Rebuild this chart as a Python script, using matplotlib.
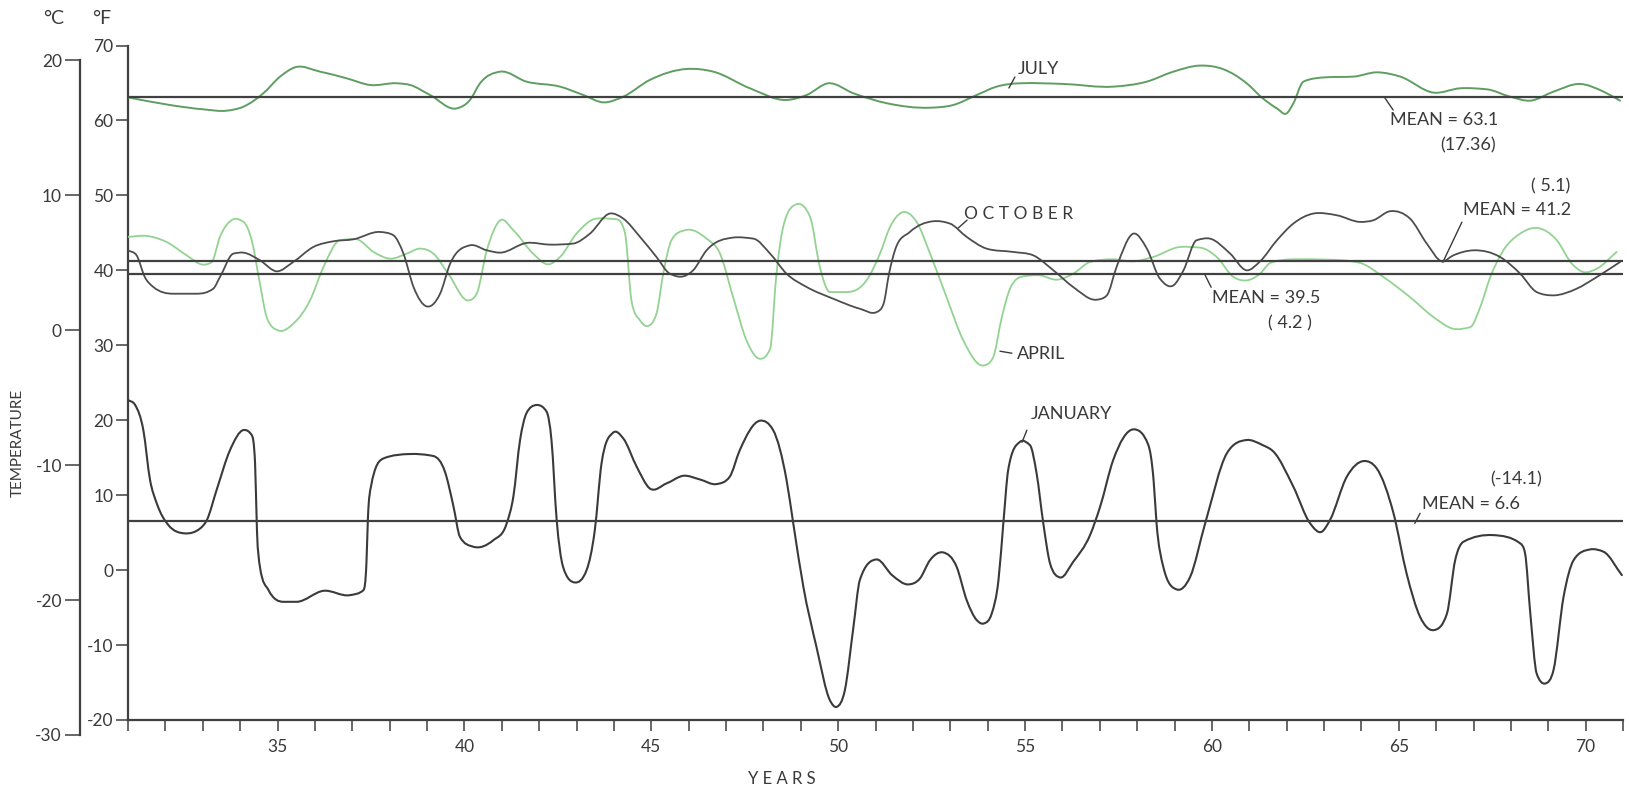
import numpy as np
import matplotlib
matplotlib.use("Agg")
import matplotlib.pyplot as plt
from matplotlib.path import Path
from matplotlib.patches import PathPatch

plt.rcParams['font.family'] = ['Lato', 'DejaVu Sans']
plt.rcParams['axes.unicode_minus'] = False

# ---------------- data (year, deg F) ----------------
jul_x = [31.0, 32.12, 33.02, 33.64, 34.09, 34.62, 35.07, 35.47, 36.14, 36.85, 37.48, 38.19,
         38.55, 39.08, 39.80, 40.15, 40.42, 40.96, 41.66, 42.56, 43.18, 43.72, 44.25, 44.96,
         45.95, 46.66, 47.64, 48.62, 49.16, 49.74, 50.41, 51.30, 52.46, 53.08, 53.71, 54.24,
         54.87, 56.03, 57.36, 58.26, 58.97, 59.68, 60.31, 60.93, 61.35, 61.74, 62.00, 62.18,
         62.45, 63.07, 63.79, 64.41, 65.04, 65.93, 66.64, 67.36, 67.98, 68.52, 69.14, 69.85,
         70.48, 70.92]
jul_f = [63.08, 62.06, 61.48, 61.30, 61.84, 63.62, 65.85, 67.09, 66.51, 65.62, 64.73, 64.96,
         64.73, 63.40, 61.61, 62.73, 64.96, 66.51, 65.18, 64.51, 63.40, 62.41, 63.17, 65.40,
         66.87, 66.51, 64.29, 62.73, 63.40, 64.96, 63.62, 62.30, 61.70, 62.06, 63.40, 64.51,
         64.96, 64.87, 64.51, 65.18, 66.51, 67.32, 66.83, 64.96, 63.00, 61.61, 60.94, 62.28,
         65.18, 65.76, 65.85, 66.42, 65.85, 63.71, 64.29, 64.15, 63.17, 62.64, 63.84, 64.87,
         63.84, 62.64]

oct_x = [31.0, 31.23, 31.45, 31.68, 32.21, 32.84, 33.28, 33.46, 33.82, 34.09, 34.53, 34.98,
         35.42, 35.96, 36.50, 37.03, 37.74, 38.10, 38.37, 38.64, 38.99, 39.35, 39.62, 40.15,
         40.60, 40.96, 41.66, 42.29, 42.91, 43.36, 43.89, 44.25, 44.70, 45.14, 45.50, 45.86,
         46.12, 46.48, 47.19, 47.73, 48.18, 48.62, 49.16, 49.87, 50.58, 51.03, 51.22, 51.36,
         51.52, 51.92, 52.55, 52.99, 53.44, 53.97, 54.69, 55.22, 55.76, 56.29, 56.92, 57.19,
         57.45, 57.90, 58.26, 58.61, 58.97, 59.24, 59.59, 59.95, 60.49, 60.93, 61.29, 61.74,
         62.18, 62.72, 63.34, 63.97, 64.32, 64.77, 65.30, 65.75, 66.15, 66.46, 67.00, 67.71,
         68.25, 68.69, 69.14, 69.76, 70.30, 70.92]
oct_f = [42.67, 42.00, 39.10, 37.77, 36.88, 36.88, 37.55, 39.10, 42.23, 42.36, 41.34, 39.87,
         41.11, 43.12, 43.88, 44.14, 45.12, 44.68, 42.23, 37.77, 35.19, 36.88, 40.89, 43.34,
         42.67, 42.36, 43.65, 43.43, 43.57, 44.90, 47.58, 46.91, 44.46, 41.78, 39.55, 39.20,
         40.00, 42.67, 44.37, 44.23, 42.23, 39.55, 37.77, 36.21, 34.88, 34.43, 35.60, 39.50,
         42.67, 45.12, 46.55, 46.24, 44.46, 42.90, 42.45, 42.00, 40.00, 37.77, 36.08, 36.66,
         40.45, 44.90, 42.90, 38.89, 37.99, 40.00, 44.01, 44.23, 42.23, 40.00, 41.20, 44.01,
         46.24, 47.58, 47.35, 46.46, 46.68, 47.89, 46.91, 43.57, 41.20, 42.00, 42.67, 41.78,
         39.55, 37.10, 36.66, 37.55, 39.11, 41.11]

apr_x = [31.0, 31.50, 32.03, 32.57, 33.02, 33.24, 33.46, 33.82, 34.09, 34.31, 34.53, 34.71,
         35.02, 35.42, 35.87, 36.23, 36.67, 37.12, 37.57, 38.01, 38.46, 38.81, 39.17, 39.57,
         40.11, 40.33, 40.60, 40.96, 41.31, 41.84, 42.24, 42.56, 43.00, 43.54, 44.07, 44.30,
         44.47, 44.70, 44.88, 45.14, 45.32, 45.54, 45.90, 46.48, 46.84, 47.19, 47.55, 47.91,
         48.18, 48.35, 48.53, 48.89, 49.25, 49.51, 49.78, 50.23, 50.76, 51.12, 51.39, 51.70,
         52.10, 52.46, 52.90, 53.35, 53.89, 54.15, 54.38, 54.60, 54.96, 55.40, 55.85, 56.29,
         56.74, 57.36, 57.90, 58.43, 59.15, 59.68, 60.13, 60.58, 60.93, 61.29, 61.56, 62.18,
         63.07, 63.97, 64.59, 65.30, 65.93, 66.46, 66.91, 67.18, 67.45, 67.80, 68.25, 68.69,
         69.23, 69.63, 69.94, 70.30, 70.83]
apr_f = [44.46, 44.59, 43.79, 42.00, 40.76, 41.11, 44.46, 46.82, 46.46, 44.01, 38.22, 33.76,
         31.98, 32.87, 35.99, 40.45, 44.01, 44.14, 42.45, 41.56, 42.23, 42.90, 42.23, 39.55,
         35.99, 36.88, 42.67, 46.68, 45.35, 42.23, 40.80, 41.78, 44.90, 46.91, 46.82, 44.90,
         35.99, 33.32, 32.56, 34.21, 39.55, 44.01, 45.35, 44.23, 42.23, 36.43, 30.64, 28.19,
         29.53, 39.55, 45.79, 48.82, 47.13, 40.45, 37.10, 37.10, 38.66, 42.23, 45.79, 47.71,
         46.46, 42.23, 36.43, 30.64, 27.30, 28.41, 33.76, 37.55, 39.20, 39.33, 38.75, 39.55,
         41.11, 41.47, 41.20, 41.78, 43.12, 43.03, 41.78, 39.11, 38.66, 39.55, 40.98, 41.47,
         41.43, 40.98, 39.11, 36.43, 33.76, 32.20, 32.42, 35.10, 39.11, 42.67, 44.90, 45.66,
         44.01, 40.89, 39.78, 40.22, 42.45]

jan_x = [31.0, 31.19, 31.41, 31.59, 31.77, 32.08, 32.53, 32.93, 33.11, 33.37, 33.73, 34.09,
         34.31, 34.40, 34.45, 34.53, 34.76, 35.16, 35.51, 36.23, 36.94, 37.30, 37.38, 37.42,
         37.50, 37.84, 38.55, 39.17, 39.48, 39.71, 39.88, 40.24, 40.78, 41.13, 41.31, 41.49,
         41.66, 41.93, 42.20, 42.33, 42.47, 42.64, 42.96, 43.27, 43.49, 43.67, 43.98, 44.25,
         44.61, 44.96, 45.41, 45.86, 46.30, 46.75, 47.10, 47.37, 47.91, 48.26, 48.62, 48.80,
         49.07, 49.42, 49.78, 49.96, 50.18, 50.41, 50.58, 51.03, 51.45, 51.88, 52.19, 52.46,
         52.81, 53.17, 53.44, 53.71, 53.90, 54.11, 54.29, 54.42, 54.55, 54.87, 55.13, 55.31,
         55.49, 55.67, 55.94, 56.29, 56.74, 57.01, 57.36, 57.90, 58.30, 58.44, 58.52, 58.70,
         59.06, 59.42, 59.82, 60.40, 60.93, 61.35, 61.65, 62.18, 62.63, 62.94, 63.16, 63.61,
         64.06, 64.41, 64.86, 65.21, 65.57, 65.93, 66.29, 66.51, 66.73, 67.53, 68.25, 68.38,
         68.52, 68.69, 68.92, 69.14, 69.41, 69.68, 70.12, 70.48, 70.97]
jan_f = [22.70, 22.04, 18.69, 12.02, 8.90, 6.01, 4.90, 5.56, 6.68, 10.68, 16.02, 18.69,
         18.02, 14.24, 5.34, 0.45, -2.67, -4.23, -4.23, -2.76, -3.34, -2.67, 1.00, 7.00,
         11.13, 14.91, 15.49, 15.22, 13.13, 8.46, 4.45, 3.12, 4.01, 6.20, 9.79, 17.36,
         20.92, 22.03, 21.14, 17.36, 6.68, 0.45, -1.65, 0.00, 5.34, 14.24, 18.34, 17.58,
         13.80, 10.90, 11.57, 12.59, 12.10, 11.48, 12.46, 16.02, 19.94, 18.69, 12.02, 6.23,
         -2.23, -10.24, -17.36, -18.25, -16.02, -7.57, -1.34, 1.42, -0.70, -1.91, -1.11, 1.34,
         2.36, 0.45, -4.01, -6.68, -7.12, -5.79, -1.34, 6.23, 13.35, 17.13, 16.69, 12.91,
         6.23, 0.89, -0.98, 1.11, 4.67, 8.46, 14.69, 18.78, 16.69, 12.02, 6.23, 0.45,
         -2.58, -0.89, 6.23, 15.58, 17.36, 16.70, 15.80, 11.13, 6.23, 5.12, 6.68, 12.46,
         14.55, 13.57, 7.57, -0.45, -6.23, -8.01, -5.79, 1.34, 3.78, 4.67, 3.56, 2.23,
         -5.79, -13.80, -15.13, -13.35, -3.56, 1.34, 2.76, 2.45, -0.67]

means_f = [63.1, 41.2, 39.5, 6.6]
year_ticks = list(range(35, 71, 5))
f_ticks = list(range(-20, 71, 10))
c_ticks = list(range(-30, 21, 10))

# ---------------- styling ----------------
AXC = '#3f3f3f'
C_JUL = '#5f9e62'
C_APR = '#93d391'
C_OCT = '#4d4d4d'
C_JAN = '#3a3a3a'
C_MEAN = '#404040'


def smooth_path(x, y):
    """Cubic Hermite curve through the read points, drawn as Bezier segments."""
    x = np.asarray(x, float)
    y = np.asarray(y, float)
    h = np.diff(x)
    d = np.diff(y) / h
    n = len(x)
    m = np.zeros(n)
    for k in range(1, n - 1):
        fd = (h[k] * d[k - 1] + h[k - 1] * d[k]) / (h[k - 1] + h[k])
        lim = 2.5 * min(abs(d[k - 1]), abs(d[k]))
        m[k] = np.clip(fd, -lim, lim)
    m[0] = d[0]
    m[-1] = d[-1]
    verts = [(x[0], y[0])]
    codes = [Path.MOVETO]
    for k in range(n - 1):
        verts += [(x[k] + h[k] / 3, y[k] + m[k] * h[k] / 3),
                  (x[k + 1] - h[k] / 3, y[k + 1] - m[k + 1] * h[k] / 3),
                  (x[k + 1], y[k + 1])]
        codes += [Path.CURVE4] * 3
    return Path(verts, codes)


def c2f(c):
    return np.asarray(c, float) * 9 / 5 + 32


W, H = 1629, 792
fig = plt.figure(figsize=(W / 100, H / 100), dpi=100)
fig.patch.set_facecolor('white')
L, R = 128 / W, 1623 / W
B, T = 1 - 720 / H, 1 - 45.5 / H
ax = fig.add_axes([L, B, R - L, T - B])
ax.set_xlim(31, 71)
ax.set_ylim(-20, 70)

for s in ('top', 'right'):
    ax.spines[s].set_visible(False)
for s in ('left', 'bottom'):
    ax.spines[s].set_color(AXC)
    ax.spines[s].set_linewidth(1.6)

ax.set_xticks(year_ticks)
ax.set_xticks(list(range(31, 72)), minor=True)
ax.set_xticklabels([str(v) for v in year_ticks])
ax.set_yticks(f_ticks)
ax.set_yticklabels([str(v) for v in f_ticks])
ax.tick_params(axis='x', which='both', direction='out', length=8, width=1.1,
               color=AXC, labelcolor='#3a3a3a', labelsize=12.5, pad=6)
ax.tick_params(axis='y', direction='out', length=9, width=1.1,
               color=AXC, labelcolor='#3a3a3a', labelsize=12.5, pad=1.5)

# series
for xs, ys, col, lw in [(apr_x, apr_f, C_APR, 1.3), (jul_x, jul_f, C_JUL, 1.4),
                        (oct_x, oct_f, C_OCT, 1.3), (jan_x, jan_f, C_JAN, 1.5)]:
    ax.add_patch(PathPatch(smooth_path(xs, ys), fill=False, edgecolor=col,
                           linewidth=lw, capstyle='round', joinstyle='round', zorder=3))

for mv in means_f:
    ax.axhline(mv, color=C_MEAN, linewidth=1.6, zorder=4)

# Celsius axis (separate scale at left)
ylo, yhi = ax.get_ylim()
fr0 = (float(c2f(c_ticks[0])) - ylo) / (yhi - ylo)
fr1 = (float(c2f(c_ticks[-1])) - ylo) / (yhi - ylo)
axc = fig.add_axes([80 / W, B + (T - B) * fr0, 0.0005, (T - B) * (fr1 - fr0)])
axc.set_ylim(c_ticks[0], c_ticks[-1])
axc.patch.set_visible(False)
for s in ('top', 'right', 'bottom'):
    axc.spines[s].set_visible(False)
axc.spines['left'].set_color(AXC)
axc.spines['left'].set_linewidth(1.6)
axc.set_xticks([])
axc.set_yticks(c_ticks)
axc.set_yticklabels([str(v) for v in c_ticks])
axc.tick_params(axis='y', direction='out', length=11, width=1.1,
                color=AXC, labelcolor='#3a3a3a', labelsize=12.5, pad=2)

# unit headers and axis titles
fig.text(54 / W, 1 - 18 / H, '°C', fontsize=14, color='#3a3a3a', ha='center', va='center')
fig.text(102 / W, 1 - 18 / H, '°F', fontsize=14, color='#3a3a3a', ha='center', va='center')
fig.text(18 / W, 1 - 443 / H, 'TEMPERATURE', fontsize=11, rotation=90, color='#3a3a3a',
         ha='center', va='center')
fig.text(782 / W, 1 - 779 / H, 'Y E A R S', fontsize=12, color='#3a3a3a',
         ha='center', va='center')

# labels and leader lines (positions in data coordinates)
TXT = dict(fontsize=13, color='#3a3a3a')
LEAD = dict(arrowstyle='-', color='#3a3a3a', lw=1.0, shrinkA=0, shrinkB=0)


def leader(p0, p1):
    ax.annotate('', xy=p1, xytext=p0, arrowprops=LEAD)


ax.text(55.35, 66.93, 'JULY', ha='center', va='center', **TXT)
leader((54.73, 65.79), (54.57, 64.33))
ax.text(54.84, 47.57, 'O C T O B E R', ha='center', va='center', fontsize=12.5, color='#3a3a3a')
leader((53.45, 46.70), (53.21, 45.63))
ax.text(55.43, 28.81, 'APRIL', ha='center', va='center', **TXT)
leader((54.33, 29.21), (54.65, 28.94))
ax.text(56.23, 20.86, 'JANUARY', ha='center', va='center', **TXT)
leader((55.05, 18.66), (54.92, 17.06))

ax.text(64.77, 60.05, 'MEAN = 63.1', ha='left', va='center', **TXT)
ax.text(66.85, 56.71, '(17.36)', ha='center', va='center', **TXT)
leader((64.63, 63.0), (64.85, 61.39))

ax.text(66.72, 48.03, 'MEAN = 41.2', ha='left', va='center', **TXT)
ax.text(69.07, 51.17, '( 5.1)', ha='center', va='center', **TXT)
leader((66.18, 41.09), (66.69, 46.43))

ax.text(60.0, 36.28, 'MEAN = 39.5', ha='left', va='center', **TXT)
ax.text(62.09, 32.95, '( 4.2 )', ha='center', va='center', **TXT)
leader((59.82, 39.35), (59.98, 37.75))

ax.text(65.62, 8.84, 'MEAN = 6.6', ha='left', va='center', **TXT)
ax.text(68.14, 12.05, '(-14.1)', ha='center', va='center', **TXT)
leader((65.43, 6.24), (65.57, 7.58))

fig.savefig('out.png', dpi=100, facecolor='white')
